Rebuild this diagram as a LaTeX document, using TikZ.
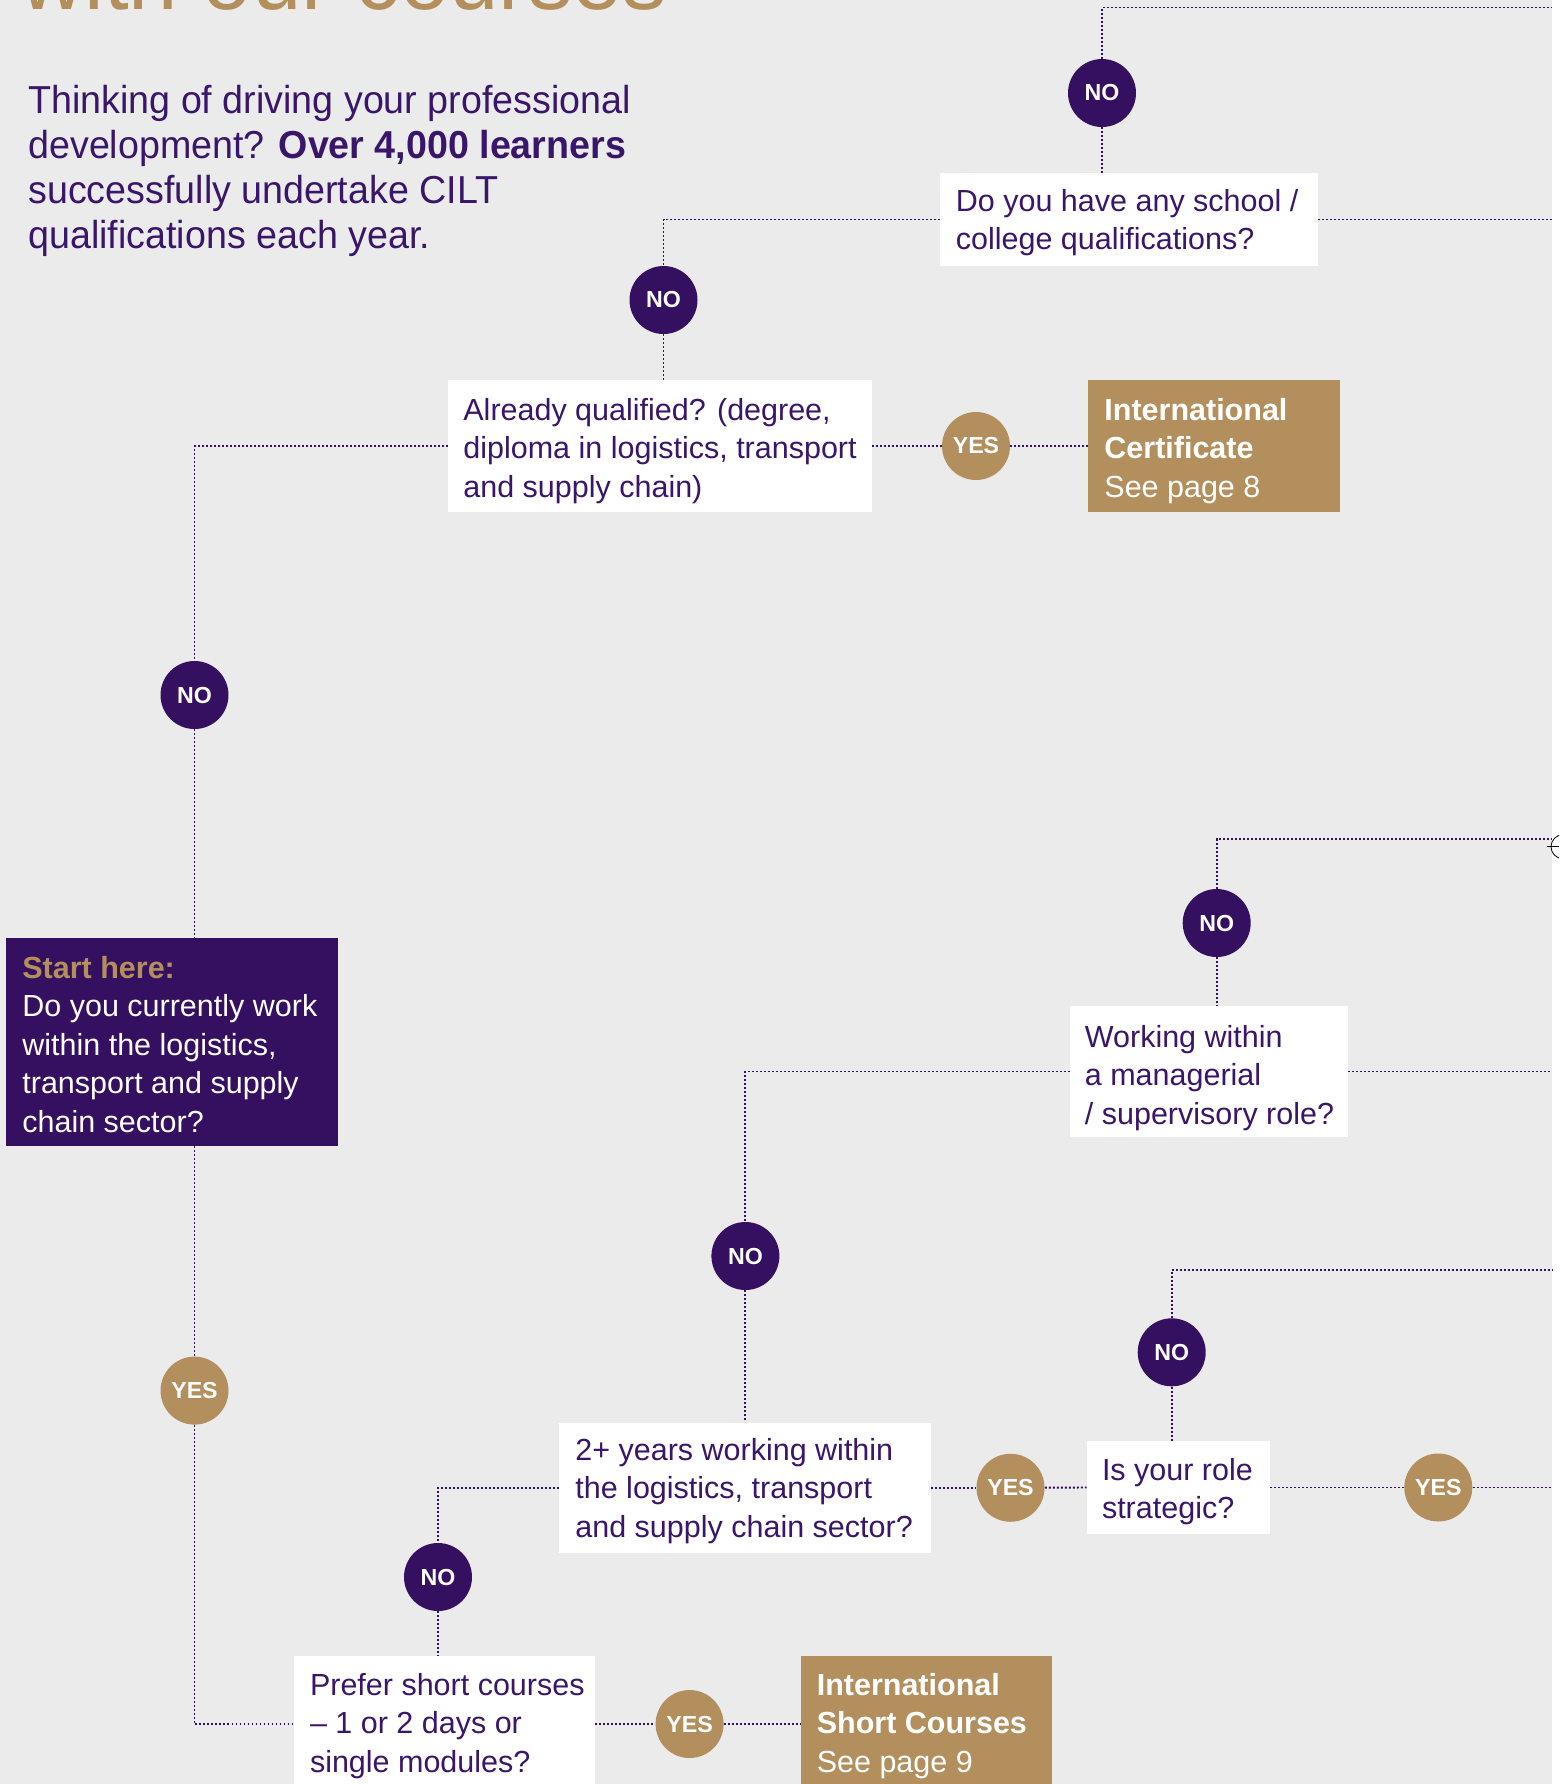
\documentclass[tikz,border=0pt]{standalone}
\usepackage{fontspec}
\setmainfont{Liberation Sans}
\newfontfamily\introfont[FakeStretch=0.965]{Liberation Sans}
\usetikzlibrary{fit}
\definecolor{cpurple}{HTML}{361060}
\definecolor{ctext}{HTML}{3A166A}
\definecolor{cgold}{HTML}{B38F5D}
\definecolor{cbg}{HTML}{EBEBEB}
\newcommand\firstst{\rule{0pt}{13pt}}
\begin{document}
\begin{tikzpicture}[x=0.5pt,y=-0.5pt,
  conn/.style={draw=cpurple, line width=0.95pt, dash pattern=on 0.95pt off 1.05pt},
  box/.style={inner sep=0pt, draw=none},
  wbox/.style={box, fill=white},
  gbox/.style={box, fill=cgold},
  pbox/.style={box, fill=cpurple},
  btxt/.style={anchor=north west, inner sep=0pt, align=left, text=ctext, font=\fontsize{15.25pt}{19.2pt}\selectfont},
  wtxt/.style={btxt, text=white},
  circ/.style={circle, inner sep=0pt, minimum size=34pt, text=white, font=\bfseries\fontsize{11.6pt}{13pt}\selectfont},
  nobub/.style={circ, fill=cpurple},
  yesbub/.style={circ, fill=cgold},
]
\useasboundingbox (0,0) rectangle (1559,1784);
\clip (0,0) rectangle (1559,1784);
\fill[white] (0,0) rectangle (1559,1784);
\fill[cbg] (0,0) rectangle (1552,1784);

% title (cut off at the top edge, as in the reference) and intro
\node[anchor=base west, inner sep=0pt, text=cgold, font=\introfont\fontsize{46pt}{50pt}\selectfont] (title) at (20,9.5) {with our courses};
\node[anchor=north west, inner sep=0pt, align=left, text=ctext, font=\introfont\fontsize{19.5pt}{22.5pt}\selectfont] (intro) at (28,80.7)
  {\rule{0pt}{16pt}Thinking of driving your professional\\development? \textbf{Over 4,000 learners}\\successfully undertake CILT\\qualifications each year.};

% boxes
\node[wbox, fit={(940,173) (1318,266)}] (bSchool) {};
\node[btxt] (tSchool) at (955.5,185) {\firstst Do you have any school /\\college qualifications?};

\node[wbox, fit={(448,380) (872,512)}] (bAlready) {};
\node[btxt] (tAlready) at (463,394) {\firstst Already qualified? (degree,\\diploma in logistics, transport\\and supply chain)};

\node[gbox, fit={(1088,380) (1340,512)}] (bCert) {};
\node[wtxt] (tCert) at (1104,394) {\firstst\textbf{International}\\\textbf{Certificate}\\See page 8};

\node[pbox, fit={(6,938) (338,1146)}] (bStart) {};
\node[wtxt] (tStart) at (22,952) {\firstst\textcolor{cgold}{\textbf{Start here:}}\\Do you currently work\\within the logistics,\\transport and supply\\chain sector?};

\node[wbox, fit={(1070,1006) (1348,1137)}] (bWork) {};
\node[btxt] (tWork) at (1084.5,1021) {\firstst Working within\\a managerial\\/ supervisory role?};

\node[wbox, fit={(559,1422.5) (931,1553)}] (b2plus) {};
\node[btxt] (t2plus) at (575,1434) {\firstst 2+ years working within\\the logistics, transport\\and supply chain sector?};

\node[wbox, fit={(1087,1441) (1270,1534)}] (bRole) {};
\node[btxt] (tRole) at (1101.6,1454) {\firstst Is your role\\strategic?};

\node[wbox, fit={(293.5,1656) (595,1792)}] (bPrefer) {};
\node[btxt] (tPrefer) at (309.6,1669) {\firstst Prefer short courses\\– 1 or 2 days or\\single modules?};

\node[gbox, fit={(801,1656) (1052,1792)}] (bShort) {};
\node[wtxt] (tShort) at (816.4,1669) {\firstst\textbf{International}\\\textbf{Short Courses}\\See page 9};

% bubbles
\node[nobub] (nA) at (1102,93) {NO};
\node[nobub] (nB) at (663.5,300) {NO};
\node[yesbub] (yA) at (976,446) {YES};
\node[nobub] (nC) at (194.5,695) {NO};
\node[nobub] (nD) at (1216.7,923) {NO};
\node[nobub] (nE) at (745.4,1256) {NO};
\node[yesbub] (yB) at (194.5,1390.6) {YES};
\node[nobub] (nF) at (1171.7,1352.3) {NO};
\node[yesbub] (yC) at (1010.5,1487.75) {YES};
\node[yesbub] (yD) at (1438.3,1487.5) {YES};
\node[nobub] (nG) at (438,1577) {NO};
\node[yesbub] (yE) at (689.6,1724) {YES};

% free ends at the right edge
\coordinate (eA) at (1552,7.5);
\coordinate (eB) at (1552,219.5);
\coordinate (eD) at (1552,839);
\coordinate (eE) at (1552,1071.5);
\coordinate (eF) at (1552,1270);
\coordinate (eG) at (1552,1487.5);

% connectors
\draw[conn] (nA) |- (eA);
\draw[conn] (nA) -- (nA |- bSchool.north);
\draw[conn] (bSchool.east) -- (eB);
\draw[conn] (bSchool.west) -| (nB);
\draw[conn] (nB) -- (nB |- bAlready.north);
\draw[conn] (bAlready.east) -- (yA);
\draw[conn] (yA) -- (bCert.west);
\draw[conn] (bAlready.west) -| (nC);
\draw[conn] (nC) -- (nC |- bStart.north);
\draw[conn] (yB |- bStart.south) -- (yB);
\draw[conn] (yB) |- (bPrefer.west);
\draw[conn] (nD) |- (eD);
\draw[conn] (nD) -- (nD |- bWork.north);
\draw[conn] (bWork.east) -- (eE);
\draw[conn] (bWork.west) -| (nE);
\draw[conn] (nE) -- (nE |- b2plus.north);
\draw[conn] (b2plus.west) -| (nG);
\draw[conn] (nG) -- (nG |- bPrefer.north);
\draw[conn] (b2plus.east) -- (yC);
\draw[conn] (yC) -- (bRole.west);
\draw[conn] (nF) |- (eF);
\draw[conn] (nF) -- (nF |- bRole.north);
\draw[conn] (bRole.east) -- (yD);
\draw[conn] (yD) -- (eG);
\draw[conn] (bPrefer.east) -- (yE);
\draw[conn] (yE) -- (bShort.west);

% registration mark at the right edge
\draw[black, line width=0.4pt] (1563,846.7) circle (12);
\draw[black, line width=0.4pt] (1547,846.7) -- (1559,846.7);
\end{tikzpicture}
\end{document}
